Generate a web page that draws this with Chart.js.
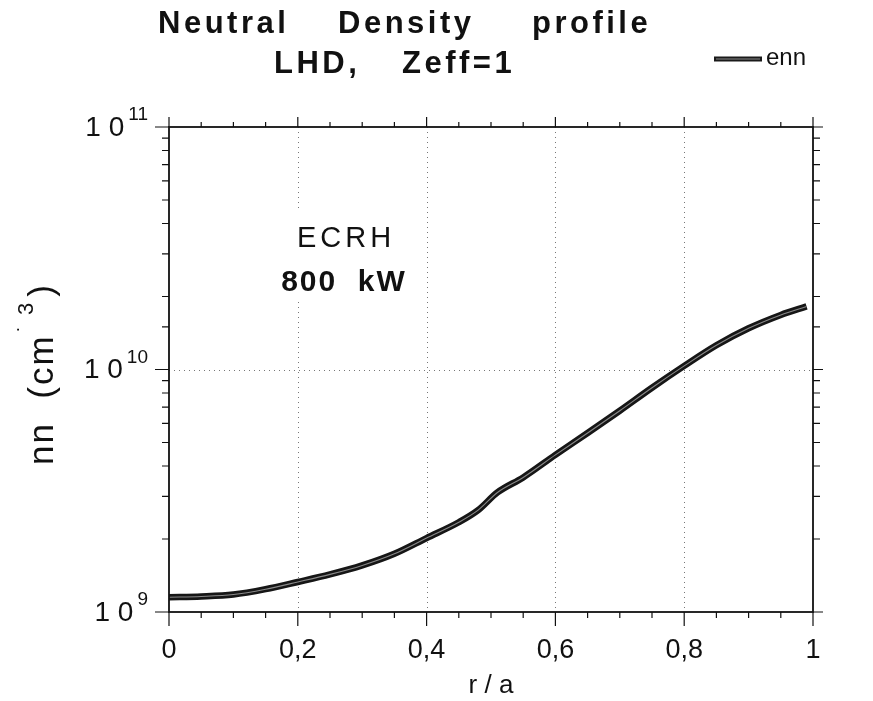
<!DOCTYPE html>
<html>
<head>
<meta charset="UTF-8">
<title>Neutral Density profile</title>
<script src="https://cdn.jsdelivr.net/npm/chart.js@4/dist/chart.umd.min.js"></script>
<style>
  body { margin: 0; background: #fff; }
  #wrap { width: 873px; height: 701px; }
</style>
</head>
<body>
<div id="wrap"><canvas id="cChart"></canvas></div>
<script>
// r/a and neutral density
const rA = [0, 0.05, 0.1, 0.15, 0.2, 0.25, 0.3, 0.35, 0.4, 0.45, 0.48, 0.51, 0.55, 0.6, 0.65, 0.7, 0.75, 0.8, 0.85, 0.9, 0.95, 0.99];
const enn = [1.151e9, 1.159e9, 1.180e9, 1.242e9, 1.330e9, 1.429e9, 1.556e9, 1.738e9, 2.018e9, 2.344e9, 2.630e9, 3.112e9, 3.589e9, 4.446e9, 5.47e9, 6.76e9, 8.41e9, 1.035e10, 1.259e10, 1.479e10, 1.679e10, 1.820e10];

const xTickLabels = ['0', '0,2', '0,4', '0,6', '0,8', '1'];
const yDecades = [1e9, 1e10, 1e11];
const yExponents = ['9', '10', '11'];
const xGrid = [0.2, 0.4, 0.6, 0.8];
const yGrid = [1e10];

const FONT = '"Liberation Sans", Arial, Helvetica, sans-serif';

const points = rA.map((x, i) => ({ x: x, y: enn[i] }));

// frame, ticks, grid, superscript labels, titles
const decor = {
  id: 'decor',
  beforeDatasetsDraw(chart) {
    const ctx = chart.ctx, a = chart.chartArea;
    const xs = chart.scales.x, ys = chart.scales.y;
    ctx.save();
    ctx.strokeStyle = '#777';
    ctx.lineWidth = 1;
    ctx.setLineDash([1, 4]);
    xGrid.forEach(v => {
      const px = Math.round(xs.getPixelForValue(v)) + 0.5;
      ctx.beginPath(); ctx.moveTo(px, a.top); ctx.lineTo(px, a.bottom); ctx.stroke();
    });
    yGrid.forEach(v => {
      const py = Math.round(ys.getPixelForValue(v)) + 0.5;
      ctx.beginPath(); ctx.moveTo(a.left, py); ctx.lineTo(a.right, py); ctx.stroke();
    });
    // the annotation sits on an opaque box
    ctx.fillStyle = '#fff';
    ctx.fillRect(262, 208, 160, 94);
    ctx.restore();
  },
  afterDraw(chart) {
    const ctx = chart.ctx, a = chart.chartArea;
    const xs = chart.scales.x, ys = chart.scales.y;
    ctx.save();
    ctx.strokeStyle = '#111';
    ctx.lineWidth = 1.8;
    ctx.strokeRect(a.left, a.top, a.right - a.left, a.bottom - a.top);

    ctx.lineWidth = 1.2;
    xs.ticks.forEach(t => {
      const px = xs.getPixelForValue(t.value);
      const major = Math.round(t.value * 20) % 4 === 0;
      ctx.beginPath();
      ctx.moveTo(px, a.bottom); ctx.lineTo(px, a.bottom + (major ? 14 : 6));
      ctx.moveTo(px, a.top); ctx.lineTo(px, a.top - (major ? 10 : 5));
      ctx.stroke();
    });
    ys.ticks.forEach(t => {
      const py = ys.getPixelForValue(t.value);
      const major = yDecades.includes(t.value);
      ctx.beginPath();
      ctx.moveTo(a.left, py); ctx.lineTo(a.left - (major ? 14 : 7), py);
      ctx.moveTo(a.right, py); ctx.lineTo(a.right + (major ? 10 : 7), py);
      ctx.stroke();
    });

    // y tick labels 10^n
    ctx.fillStyle = '#111';
    ctx.textBaseline = 'middle';
    yDecades.forEach((v, i) => {
      const py = ys.getPixelForValue(v);
      ctx.font = '19px ' + FONT;
      const ew = ctx.measureText(yExponents[i]).width;
      const right = a.left - 21;
      ctx.textAlign = 'left';
      ctx.fillText(yExponents[i], right - ew, py - 12);
      ctx.font = '28px ' + FONT;
      ctx.textAlign = 'right';
      ctx.fillText('1 0', right - ew - 4, py + 1);
    });

    // y axis title, rotated, with superscript
    ctx.save();
    ctx.translate(43, 374);
    ctx.rotate(-Math.PI / 2);
    ctx.textBaseline = 'middle';
    ctx.textAlign = 'left';
    ctx.letterSpacing = '2px';
    ctx.font = '35px ' + FONT;
    const p1 = 'nn  (cm', p3 = ')';
    const w1 = ctx.measureText(p1).width, w3 = ctx.measureText(p3).width;
    ctx.font = '22px ' + FONT;
    const p2 = '\u02D9 3';
    const w2 = ctx.measureText(p2).width;
    const sx = -(w1 + w2 + w3 + 6) / 2;
    ctx.font = '35px ' + FONT;
    ctx.fillText(p1, sx, 0);
    ctx.font = '22px ' + FONT;
    ctx.fillText(p2, sx + w1 + 2, -16);
    ctx.font = '35px ' + FONT;
    ctx.fillText(p3, sx + w1 + w2 + 6, 0);
    ctx.restore();

    // main title
    ctx.font = 'bold 31px ' + FONT;
    ctx.letterSpacing = '3.5px';
    ctx.textAlign = 'left';
    ctx.textBaseline = 'middle';
    ctx.fillText('Neutral', 158, 24);
    ctx.fillText('Density', 338, 24);
    ctx.fillText('profile', 532, 24);
    ctx.fillText('LHD,', 274, 64);
    ctx.fillText('Zeff=1', 402, 64);

    // annotation
    ctx.font = '29px ' + FONT;
    ctx.letterSpacing = '4px';
    ctx.textAlign = 'center';
    ctx.fillText('ECRH', 346, 239);
    ctx.font = 'bold 30px ' + FONT;
    ctx.letterSpacing = '2px';
    ctx.fillText('800  kW', 344, 283);
    ctx.letterSpacing = '0px';

    // legend
    ctx.lineCap = 'butt';
    ctx.strokeStyle = '#1a1a1a';
    ctx.lineWidth = 5;
    ctx.beginPath(); ctx.moveTo(714, 59); ctx.lineTo(762, 59); ctx.stroke();
    ctx.strokeStyle = '#888';
    ctx.lineWidth = 1;
    ctx.beginPath(); ctx.moveTo(716, 59); ctx.lineTo(760, 59); ctx.stroke();
    ctx.font = '24px ' + FONT;
    ctx.textAlign = 'left';
    ctx.fillStyle = '#111';
    ctx.fillText('enn', 766, 58);
    ctx.restore();
  }
};

const config = {
  type: 'line',
  data: {
    datasets: [{
      label: 'enn',
      data: points,
      borderColor: '#161616',
      borderWidth: 6.5,
      pointRadius: 0,
      cubicInterpolationMode: 'monotone',
      fill: false,
      order: 1
    }, {
      label: 'enn-core',
      data: points,
      borderColor: '#8a8a8a',
      borderWidth: 1.1,
      pointRadius: 0,
      cubicInterpolationMode: 'monotone',
      fill: false,
      order: 0
    }]
  },
  options: {
    responsive: true,
    maintainAspectRatio: false,
    animation: false,
    events: [],
    layout: { padding: { top: 127, right: 60, bottom: 0, left: 0 } },
    plugins: {
      legend: { display: false },
      title: { display: false },
      tooltip: { enabled: false }
    },
    scales: {
      x: {
        type: 'linear',
        min: 0,
        max: 1,
        grid: { display: true, drawOnChartArea: false, drawTicks: false, color: 'transparent' },
        border: { display: false },
        ticks: {
          stepSize: 0.05,
          autoSkip: false,
          maxRotation: 0,
          padding: 22,
          color: '#111',
          font: { family: FONT, size: 27 },
          callback: v => {
            const k = Math.round(v * 20);
            return k % 4 === 0 ? xTickLabels[k / 4] : '';
          }
        },
        title: {
          display: true,
          text: 'r / a',
          color: '#111',
          font: { family: FONT, size: 26 },
          padding: { top: 4, bottom: 0 }
        },
        afterFit: s => { s.height = 89; }
      },
      y: {
        type: 'logarithmic',
        min: 1e9,
        max: 1e11,
        grid: { display: true, drawOnChartArea: false, drawTicks: false, color: 'transparent' },
        border: { display: false },
        ticks: { autoSkip: false, callback: () => '' },
        afterFit: s => { s.height; s.width = 169; }
      }
    }
  },
  plugins: [decor]
};

const cChart = new Chart(document.getElementById('cChart'), config);
</script>
</body>
</html>
